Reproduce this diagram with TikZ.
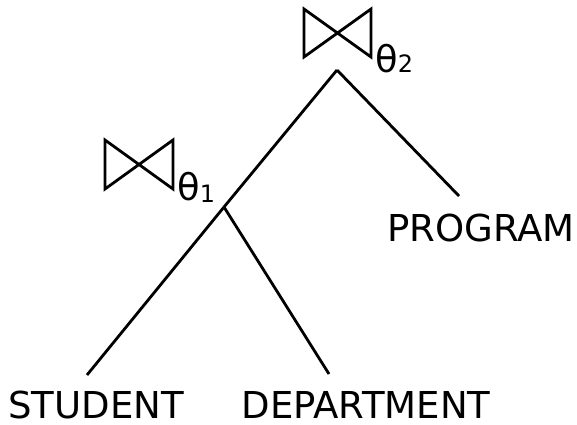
\documentclass[tikz,border=0pt]{standalone}
\usepackage{fontspec}
\setmainfont{DejaVu Sans}
\begin{document}
\begin{tikzpicture}[x=1bp,y=-1bp,
  edge/.style={line width=2.8bp, line cap=butt},
  bowtie/.style={line width=2.8bp, line join=miter},
  rel/.style={inner sep=0pt, anchor=base, text depth=0pt, font=\fontsize{37.2}{40}\selectfont},
  theta/.style={inner sep=0pt, anchor=base west, text depth=0pt, font=\fontsize{37}{40}\selectfont}]
\useasboundingbox (0,0) rectangle (577,424);
% join operators (bowtie) drawn as outlines
\draw[bowtie] (304,9) -- (304,57) -- (371,9) -- (371,57) -- cycle;
\draw[bowtie] (105,140) -- (105,189) -- (173,140) -- (173,189) -- cycle;
\node[theta] (t2) at (375,72) {θ\raisebox{0pt}{\fontsize{24}{24}\selectfont 2}};
\node[theta] (t1) at (177,200) {θ\raisebox{-2bp}{\fontsize{24}{24}\selectfont 1}};
% tree junctions and edge ends
\coordinate (j2) at (337,70);
\coordinate (j1) at (224,207);
\coordinate (ep) at (459,196);
\coordinate (es) at (87,375);
\coordinate (ed) at (329,374);
% relations
\node[rel] (program) at (481,241) {PROGRAM};
\node[rel] (student) at (96,418) {STUDENT};
\node[rel] (department) at (366,418) {DEPARTMENT};
% edges
\draw[edge] (j2) -- (j1);
\draw[edge] (j2) -- (ep);
\draw[edge] (j1) -- (es);
\draw[edge] (j1) -- (ed);
\end{tikzpicture}
\end{document}
